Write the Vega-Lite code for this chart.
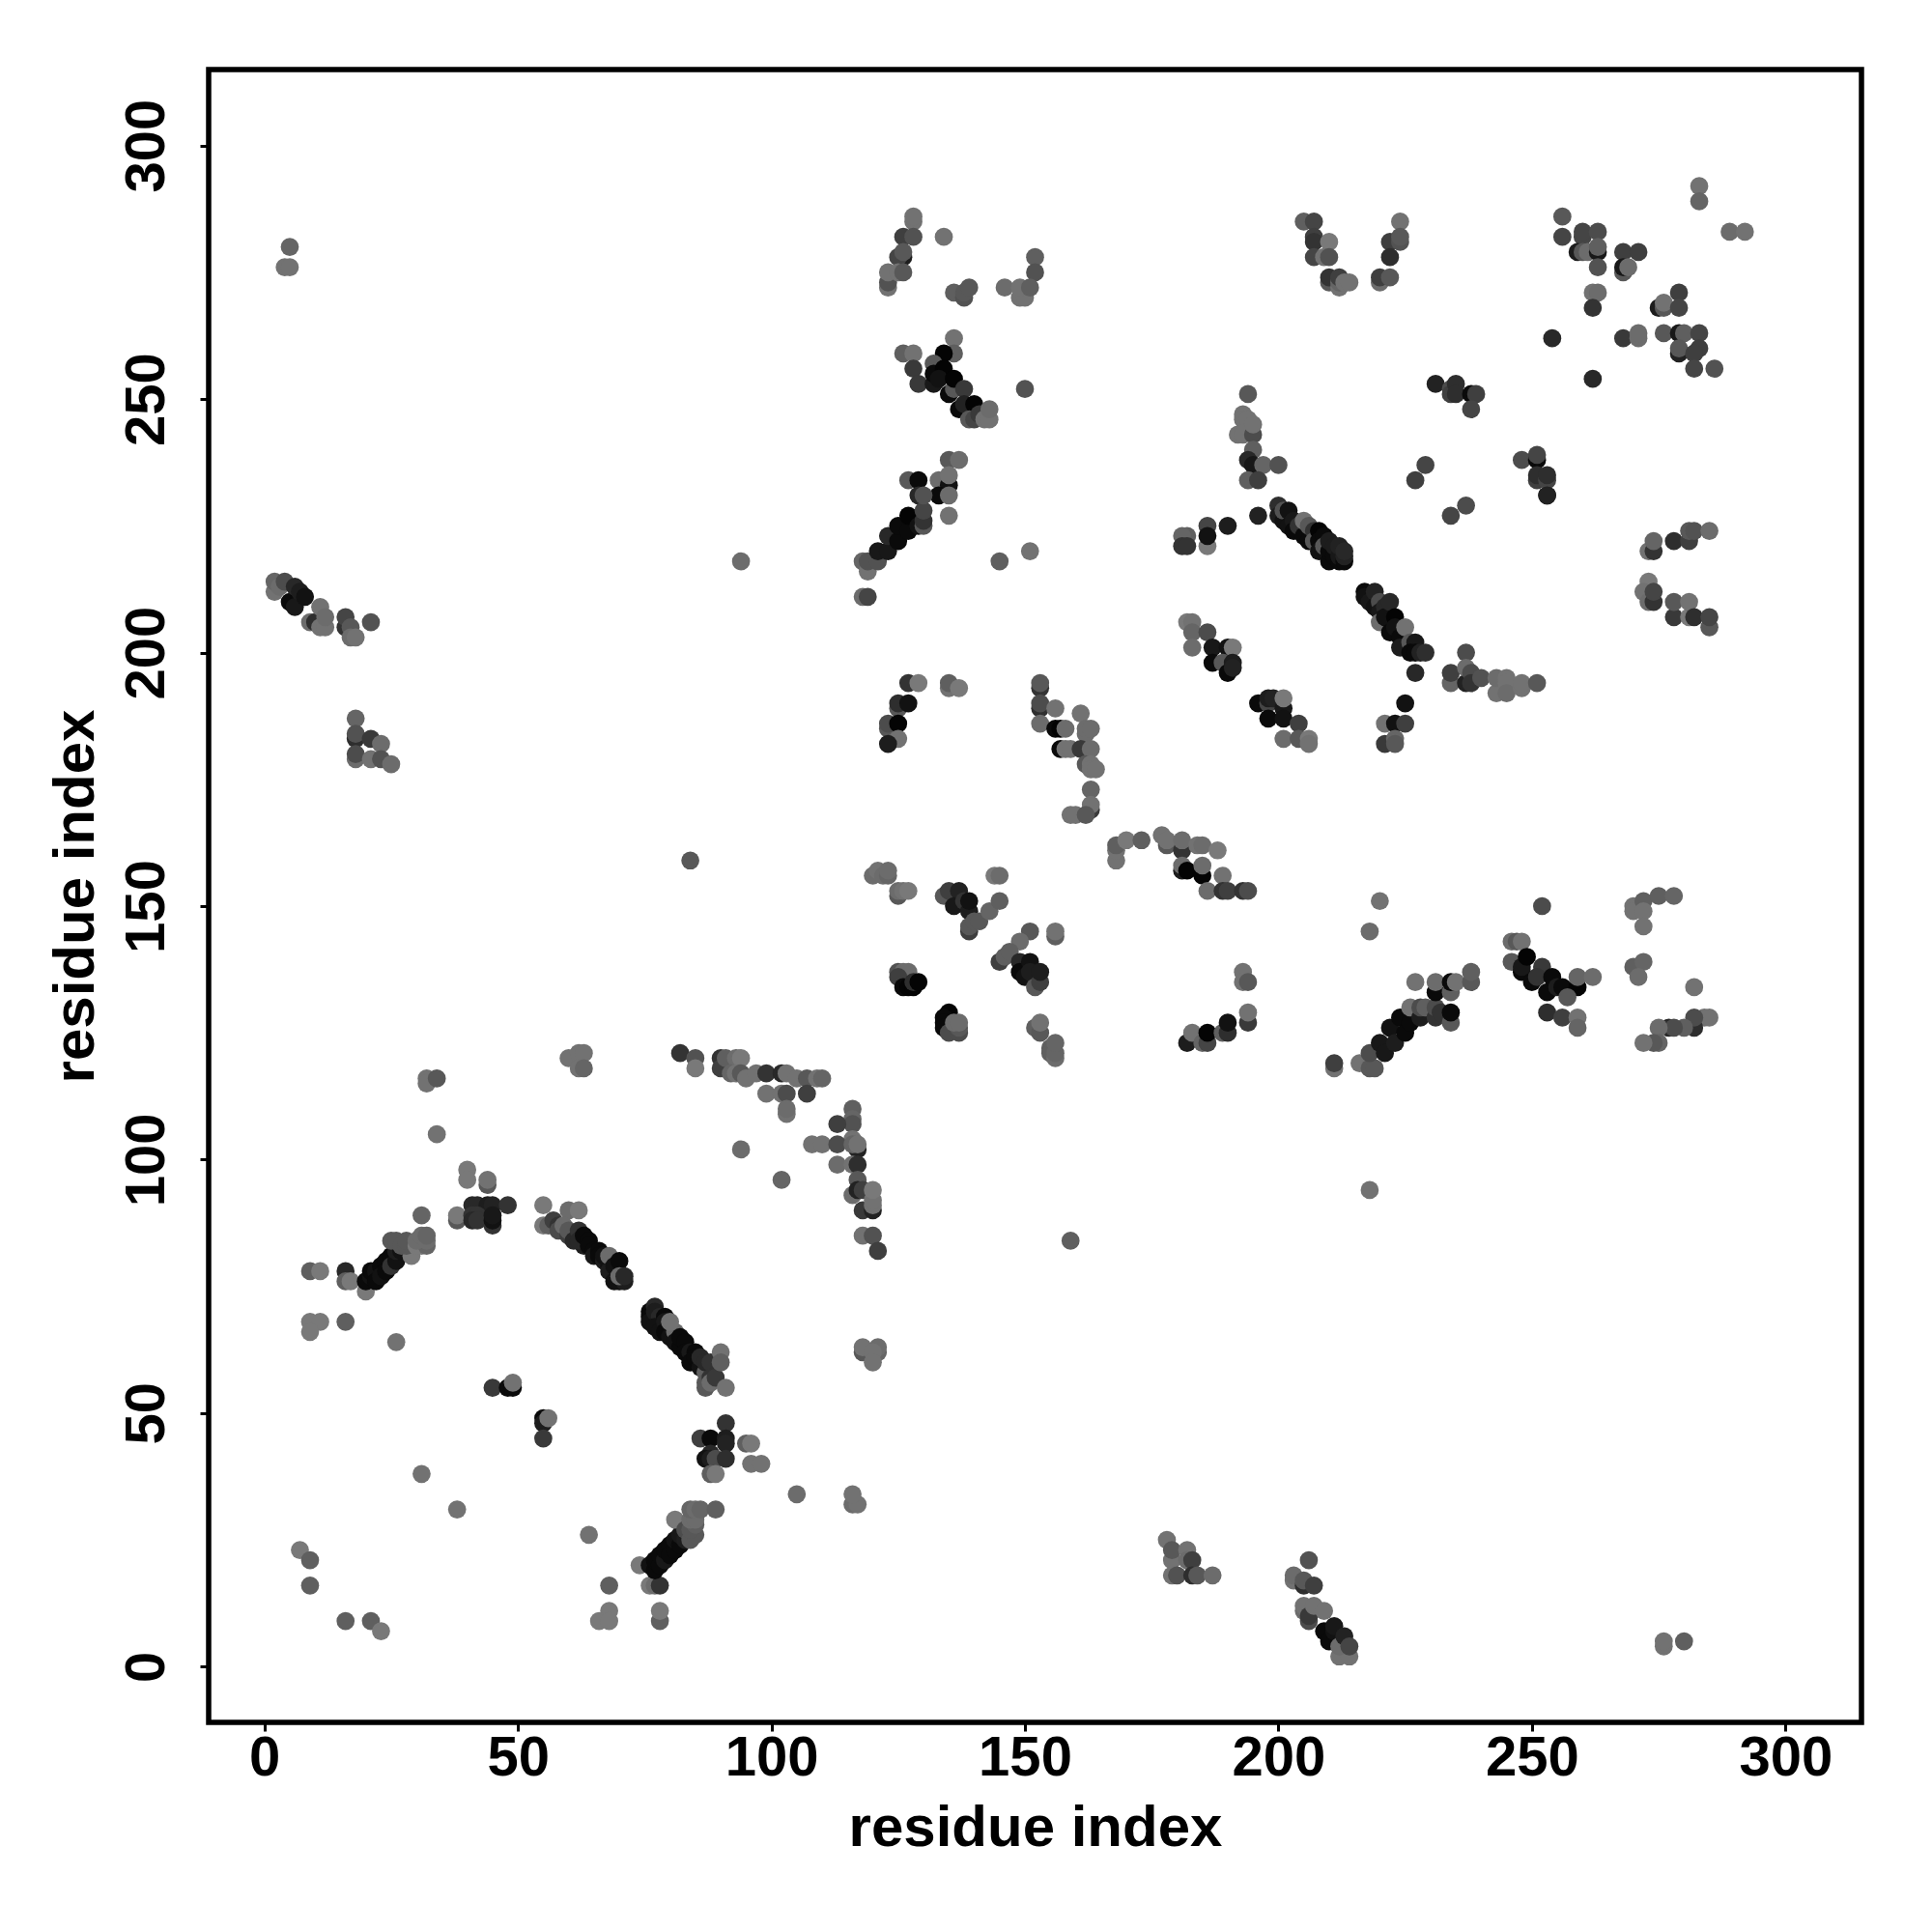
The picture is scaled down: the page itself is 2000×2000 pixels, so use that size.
{"$schema":"https://vega.github.io/schema/vega-lite/v6.json","width":1711,"height":1711,"autosize":{"type":"none"},"padding":{"left":216,"top":72,"right":73,"bottom":217},"background":"white","config":{"view":{"stroke":"#000","strokeWidth":5.5},"axis":{"domain":false,"grid":false,"ticks":true,"tickSize":9,"tickWidth":3,"tickColor":"#000","labelFont":"Liberation Sans","labelFontWeight":"bold","labelFontSize":58,"labelColor":"#000","titleFont":"Liberation Sans","titleFontWeight":"bold","titleFontSize":60,"titleColor":"#000"}},
"data":{"values":[
{"x":40,"y":98,"s":95},{"x":40,"y":96,"s":95},{"x":44,"y":95,"s":70},{"x":44,"y":96,"s":90},{"x":34,"y":105,"s":90},{"x":32,"y":116,"s":90},{"x":32,"y":115,"s":90},{"x":34,"y":116,"s":70},{"x":31,"y":89,"s":80},{"x":38,"y":88,"s":70},{"x":38,"y":89,"s":95},{"x":41,"y":91,"s":30},{"x":42,"y":91,"s":30},{"x":44,"y":91,"s":20},{"x":45,"y":91,"s":25},{"x":48,"y":91,"s":40},{"x":41,"y":89,"s":40},{"x":42,"y":89,"s":40},{"x":41,"y":88,"s":30},{"x":42,"y":88,"s":40},{"x":45,"y":87,"s":40},{"x":45,"y":88,"s":10},{"x":45,"y":89,"s":15},
{"x":55,"y":91,"s":95},{"x":60,"y":90,"s":85},{"x":62,"y":90,"s":95},{"x":55,"y":87,"s":95},{"x":56,"y":87,"s":75},{"x":57,"y":88,"s":50},{"x":58,"y":87,"s":40},{"x":58,"y":86,"s":60},{"x":59,"y":87,"s":85},{"x":60,"y":85,"s":50},{"x":60,"y":86,"s":70},{"x":61,"y":84,"s":30},{"x":62,"y":86,"s":40},{"x":63,"y":83,"s":20},{"x":62,"y":84,"s":30},{"x":63,"y":85,"s":5},{"x":64,"y":84,"s":5},{"x":64,"y":83,"s":5},{"x":65,"y":82,"s":5},{"x":65,"y":81,"s":15},{"x":66,"y":82,"s":5},{"x":66,"y":81,"s":5},{"x":67,"y":80,"s":20},{"x":67,"y":81,"s":10},{"x":68,"y":79,"s":10},{"x":68,"y":81,"s":85},{"x":69,"y":78,"s":15},{"x":68,"y":78,"s":20},{"x":69,"y":79,"s":10},{"x":69,"y":76,"s":10},{"x":70,"y":76,"s":10},{"x":71,"y":76,"s":20},{"x":70,"y":80,"s":5},{"x":70,"y":77,"s":85},{"x":71,"y":77,"s":30},
{"x":9,"y":78,"s":75},{"x":11,"y":78,"s":95},{"x":16,"y":78,"s":30},{"x":16,"y":76,"s":75},{"x":17,"y":76,"s":95},{"x":20,"y":74,"s":95},{"x":20,"y":76,"s":5},{"x":21,"y":77,"s":10},{"x":21,"y":78,"s":5},{"x":22,"y":78,"s":10},{"x":22,"y":76,"s":5},{"x":23,"y":79,"s":5},{"x":23,"y":77,"s":10},{"x":24,"y":80,"s":5},{"x":24,"y":78,"s":5},{"x":25,"y":81,"s":5},{"x":25,"y":79,"s":40},{"x":26,"y":80,"s":10},{"x":26,"y":82,"s":20},{"x":27,"y":82,"s":10},{"x":29,"y":81,"s":95},{"x":25,"y":84,"s":70},{"x":26,"y":84,"s":70},{"x":27,"y":83,"s":70},{"x":28,"y":83,"s":70},{"x":28,"y":84,"s":70},{"x":30,"y":83,"s":95},{"x":31,"y":83,"s":95},{"x":32,"y":83,"s":80},{"x":30,"y":84,"s":85},{"x":31,"y":85,"s":85},{"x":32,"y":84,"s":85},{"x":32,"y":85,"s":80},
{"x":9,"y":68,"s":95},{"x":11,"y":68,"s":95},{"x":9,"y":66,"s":95},{"x":16,"y":68,"s":75},{"x":26,"y":64,"s":90},{"x":45,"y":55,"s":45},{"x":48,"y":55,"s":5},{"x":49,"y":55,"s":5},{"x":49,"y":56,"s":90},{"x":55,"y":49,"s":5},{"x":55,"y":48,"s":20},{"x":56,"y":49,"s":90},{"x":55,"y":45,"s":45},{"x":31,"y":38,"s":90},{"x":38,"y":31,"s":90},{"x":7,"y":23,"s":95},{"x":9,"y":21,"s":75},{"x":9,"y":16,"s":75},{"x":16,"y":9,"s":75},{"x":21,"y":9,"s":75},{"x":23,"y":7,"s":95},{"x":64,"y":26,"s":90},{"x":68,"y":16,"s":75},{"x":68,"y":11,"s":95},{"x":66,"y":9,"s":95},{"x":68,"y":9,"s":95},{"x":78,"y":9,"s":75},{"x":78,"y":11,"s":95},
{"x":74,"y":20,"s":95},{"x":76,"y":16,"s":95},{"x":77,"y":16,"s":85},{"x":78,"y":16,"s":40},{"x":76,"y":20,"s":10},{"x":77,"y":19,"s":5},{"x":77,"y":21,"s":5},{"x":78,"y":20,"s":5},{"x":78,"y":22,"s":5},{"x":79,"y":21,"s":15},{"x":79,"y":23,"s":5},{"x":80,"y":24,"s":5},{"x":80,"y":22,"s":5},{"x":81,"y":23,"s":5},{"x":81,"y":25,"s":10},{"x":82,"y":24,"s":5},{"x":82,"y":26,"s":15},{"x":83,"y":25,"s":20},{"x":81,"y":29,"s":95},{"x":83,"y":27,"s":60},{"x":84,"y":25,"s":70},{"x":85,"y":26,"s":70},{"x":84,"y":27,"s":70},{"x":85,"y":28,"s":75},{"x":84,"y":29,"s":85},{"x":85,"y":29,"s":85},{"x":84,"y":31,"s":80},{"x":85,"y":31,"s":85},{"x":86,"y":31,"s":80},{"x":89,"y":31,"s":75},
{"x":76,"y":70,"s":5},{"x":76,"y":69,"s":5},{"x":76,"y":68,"s":10},{"x":77,"y":71,"s":30},{"x":77,"y":70,"s":20},{"x":78,"y":69,"s":30},{"x":77,"y":67,"s":10},{"x":78,"y":66,"s":10},{"x":79,"y":69,"s":5},{"x":79,"y":68,"s":15},{"x":79,"y":66,"s":5},{"x":80,"y":65,"s":10},{"x":81,"y":66,"s":85},{"x":80,"y":68,"s":90},{"x":81,"y":64,"s":10},{"x":82,"y":63,"s":5},{"x":82,"y":65,"s":5},{"x":83,"y":64,"s":5},{"x":83,"y":62,"s":5},{"x":84,"y":62,"s":15},{"x":84,"y":60,"s":5},{"x":85,"y":62,"s":5},{"x":85,"y":61,"s":5},{"x":86,"y":59,"s":10},{"x":86,"y":61,"s":30},{"x":87,"y":58,"s":75},{"x":87,"y":56,"s":70},{"x":87,"y":55,"s":70},{"x":87,"y":60,"s":30},{"x":88,"y":60,"s":40},{"x":88,"y":57,"s":40},{"x":88,"y":56,"s":85},{"x":89,"y":57,"s":45},{"x":90,"y":62,"s":90},{"x":90,"y":60,"s":75},{"x":91,"y":55,"s":90},
{"x":91,"y":48,"s":40},{"x":86,"y":45,"s":50},{"x":88,"y":45,"s":5},{"x":91,"y":45,"s":20},{"x":91,"y":44,"s":25},{"x":88,"y":42,"s":30},{"x":87,"y":41,"s":10},{"x":88,"y":41,"s":20},{"x":89,"y":41,"s":60},{"x":91,"y":41,"s":35},{"x":88,"y":38,"s":75},{"x":89,"y":38,"s":95},{"x":95,"y":44,"s":75},{"x":96,"y":44,"s":95},{"x":96,"y":40,"s":90},{"x":98,"y":40,"s":90},{"x":105,"y":34,"s":85},{"x":116,"y":32,"s":85},{"x":117,"y":32,"s":90},{"x":116,"y":34,"s":90},
{"x":60,"y":120,"s":90},{"x":62,"y":121,"s":90},{"x":63,"y":121,"s":90},{"x":62,"y":118,"s":90},{"x":63,"y":118,"s":80},{"x":82,"y":121,"s":40},{"x":85,"y":120,"s":65},{"x":85,"y":118,"s":95},{"x":90,"y":120,"s":40},{"x":90,"y":118,"s":50},{"x":91,"y":120,"s":75},{"x":93,"y":120,"s":85},{"x":94,"y":120,"s":95},{"x":92,"y":117,"s":80},{"x":93,"y":117,"s":90},{"x":94,"y":117,"s":70},{"x":95,"y":116,"s":90},{"x":97,"y":117,"s":90},{"x":99,"y":117,"s":40},{"x":102,"y":117,"s":30},{"x":103,"y":117,"s":90},{"x":105,"y":116,"s":90},{"x":107,"y":116,"s":70},{"x":109,"y":116,"s":90},{"x":110,"y":116,"s":80},{"x":99,"y":113,"s":90},{"x":102,"y":113,"s":90},{"x":103,"y":113,"s":60},{"x":107,"y":113,"s":50},{"x":103,"y":109,"s":90},{"x":103,"y":110,"s":85},{"x":94,"y":102,"s":85},{"x":102,"y":96,"s":80},
{"x":116,"y":110,"s":75},{"x":116,"y":108,"s":80},{"x":116,"y":107,"s":65},{"x":113,"y":107,"s":50},{"x":116,"y":104,"s":90},{"x":108,"y":103,"s":90},{"x":110,"y":103,"s":90},{"x":113,"y":103,"s":60},{"x":117,"y":102,"s":25},{"x":116,"y":103,"s":80},{"x":117,"y":103,"s":90},{"x":113,"y":99,"s":85},{"x":116,"y":99,"s":90},{"x":117,"y":99,"s":35},{"x":117,"y":96,"s":70},{"x":116,"y":93,"s":85},{"x":117,"y":94,"s":25},{"x":118,"y":94,"s":50},{"x":118,"y":90,"s":45},{"x":120,"y":90,"s":25},{"x":120,"y":91,"s":90},{"x":120,"y":92,"s":90},{"x":120,"y":94,"s":95},{"x":118,"y":85,"s":90},{"x":120,"y":85,"s":65},{"x":121,"y":82,"s":50},{"x":159,"y":84,"s":75},{"x":118,"y":62,"s":70},{"x":118,"y":63,"s":90},{"x":121,"y":62,"s":80},{"x":121,"y":63,"s":85},{"x":120,"y":62,"s":90},{"x":120,"y":60,"s":90},
{"x":127,"y":194,"s":40},{"x":129,"y":194,"s":95},{"x":135,"y":193,"s":90},{"x":135,"y":194,"s":75},{"x":137,"y":193,"s":95},{"x":153,"y":193,"s":40},{"x":153,"y":194,"s":70},{"x":153,"y":189,"s":35},{"x":153,"y":190,"s":60},{"x":156,"y":189,"s":90},{"x":153,"y":186,"s":85},{"x":125,"y":189,"s":70},{"x":125,"y":190,"s":35},{"x":127,"y":190,"s":10},{"x":123,"y":185,"s":70},{"x":123,"y":186,"s":60},{"x":125,"y":186,"s":2},{"x":125,"y":183,"s":90},{"x":123,"y":182,"s":20},{"x":161,"y":188,"s":90},{"x":156,"y":185,"s":5},{"x":157,"y":185,"s":2},{"x":158,"y":185,"s":85},{"x":162,"y":184,"s":85},{"x":162,"y":185,"s":85},{"x":163,"y":185,"s":85},{"x":157,"y":181,"s":5},{"x":158,"y":181,"s":90},{"x":159,"y":181,"s":90},{"x":161,"y":181,"s":45},{"x":163,"y":181,"s":85},{"x":162,"y":178,"s":70},{"x":163,"y":178,"s":90},{"x":163,"y":177,"s":90},{"x":164,"y":177,"s":90},{"x":163,"y":173,"s":80},{"x":163,"y":169,"s":45},{"x":163,"y":170,"s":90},{"x":159,"y":168,"s":90},{"x":160,"y":168,"s":90},{"x":162,"y":168,"s":70},
{"x":168,"y":159,"s":90},{"x":168,"y":161,"s":90},{"x":168,"y":162,"s":75},{"x":170,"y":163,"s":95},{"x":173,"y":163,"s":75},{"x":177,"y":164,"s":90},{"x":178,"y":162,"s":70},{"x":178,"y":163,"s":90},{"x":181,"y":161,"s":40},{"x":181,"y":163,"s":85},{"x":181,"y":157,"s":20},{"x":181,"y":158,"s":85},{"x":182,"y":157,"s":2},{"x":184,"y":162,"s":90},{"x":185,"y":162,"s":85},{"x":188,"y":161,"s":95},{"x":185,"y":156,"s":2},{"x":185,"y":158,"s":85},{"x":189,"y":156,"s":90},{"x":186,"y":153,"s":85},{"x":189,"y":153,"s":40},{"x":190,"y":153,"s":50},{"x":193,"y":153,"s":40},{"x":194,"y":153,"s":60},
{"x":120,"y":156,"s":85},{"x":121,"y":157,"s":90},{"x":122,"y":156,"s":85},{"x":123,"y":156,"s":80},{"x":123,"y":157,"s":85},{"x":125,"y":152,"s":70},{"x":125,"y":153,"s":85},{"x":126,"y":153,"s":90},{"x":127,"y":153,"s":95},{"x":134,"y":152,"s":70},{"x":135,"y":153,"s":50},{"x":137,"y":153,"s":25},{"x":136,"y":150,"s":15},{"x":138,"y":151,"s":40},{"x":139,"y":149,"s":20},{"x":139,"y":151,"s":10},{"x":139,"y":145,"s":50},{"x":139,"y":146,"s":70},{"x":140,"y":147,"s":70},{"x":141,"y":147,"s":70},{"x":143,"y":149,"s":80},{"x":144,"y":156,"s":95},{"x":145,"y":156,"s":85},{"x":145,"y":151,"s":75},
{"x":151,"y":145,"s":70},{"x":149,"y":143,"s":85},{"x":156,"y":144,"s":75},{"x":156,"y":145,"s":90},{"x":145,"y":139,"s":50},{"x":146,"y":140,"s":75},{"x":147,"y":141,"s":75},{"x":149,"y":139,"s":30},{"x":149,"y":137,"s":5},{"x":150,"y":136,"s":10},{"x":151,"y":139,"s":10},{"x":151,"y":137,"s":20},{"x":152,"y":134,"s":70},{"x":153,"y":135,"s":50},{"x":153,"y":137,"s":20},
{"x":125,"y":137,"s":65},{"x":126,"y":137,"s":85},{"x":127,"y":137,"s":85},{"x":125,"y":136,"s":50},{"x":126,"y":134,"s":5},{"x":127,"y":134,"s":2},{"x":128,"y":134,"s":2},{"x":128,"y":135,"s":35},{"x":129,"y":135,"s":2},{"x":135,"y":129,"s":2},{"x":134,"y":128,"s":5},{"x":134,"y":127,"s":5},{"x":134,"y":126,"s":5},{"x":135,"y":125,"s":60},{"x":137,"y":125,"s":60},{"x":137,"y":126,"s":70},{"x":136,"y":127,"s":85},{"x":137,"y":127,"s":85},{"x":152,"y":126,"s":75},{"x":153,"y":125,"s":70},{"x":153,"y":127,"s":90},{"x":155,"y":122,"s":75},{"x":155,"y":121,"s":75},{"x":156,"y":120,"s":85},{"x":156,"y":121,"s":80},{"x":156,"y":123,"s":80},
{"x":193,"y":137,"s":90},{"x":193,"y":135,"s":90},{"x":194,"y":135,"s":70},{"x":194,"y":127,"s":45},{"x":194,"y":129,"s":90},{"x":182,"y":123,"s":20},{"x":183,"y":125,"s":90},{"x":185,"y":123,"s":80},{"x":186,"y":123,"s":55},{"x":186,"y":125,"s":2},{"x":189,"y":125,"s":75},{"x":190,"y":125,"s":35},{"x":190,"y":127,"s":10},
{"x":182,"y":223,"s":75},{"x":181,"y":223,"s":80},{"x":181,"y":221,"s":40},{"x":182,"y":221,"s":40},{"x":186,"y":225,"s":55},{"x":186,"y":221,"s":95},{"x":186,"y":223,"s":10},{"x":190,"y":225,"s":20},{"x":196,"y":227,"s":25},
{"x":200,"y":229,"s":35},{"x":200,"y":227,"s":20},{"x":201,"y":226,"s":10},{"x":201,"y":228,"s":65},{"x":202,"y":228,"s":10},{"x":202,"y":225,"s":10},{"x":203,"y":226,"s":15},{"x":203,"y":224,"s":5},{"x":204,"y":225,"s":40},{"x":205,"y":223,"s":5},{"x":205,"y":226,"s":90},{"x":206,"y":222,"s":5},{"x":206,"y":225,"s":70},{"x":207,"y":224,"s":40},{"x":207,"y":222,"s":70},{"x":208,"y":224,"s":2},{"x":208,"y":222,"s":5},{"x":208,"y":220,"s":10},{"x":209,"y":223,"s":5},{"x":209,"y":221,"s":70},{"x":210,"y":218,"s":5},{"x":210,"y":220,"s":5},{"x":210,"y":222,"s":20},{"x":211,"y":219,"s":5},{"x":211,"y":221,"s":20},{"x":212,"y":218,"s":5},{"x":212,"y":219,"s":15},{"x":212,"y":221,"s":25},{"x":213,"y":218,"s":5},{"x":213,"y":219,"s":25},{"x":213,"y":220,"s":30},
{"x":217,"y":212,"s":5},{"x":217,"y":211,"s":10},{"x":218,"y":210,"s":15},{"x":219,"y":212,"s":25},{"x":219,"y":209,"s":10},{"x":220,"y":210,"s":60},{"x":220,"y":208,"s":15},{"x":220,"y":206,"s":85},{"x":221,"y":209,"s":30},{"x":221,"y":207,"s":10},{"x":222,"y":204,"s":5},{"x":222,"y":210,"s":30},{"x":223,"y":207,"s":2},{"x":223,"y":205,"s":10},{"x":224,"y":203,"s":5},{"x":224,"y":201,"s":20},{"x":225,"y":205,"s":90},{"x":226,"y":202,"s":70},{"x":227,"y":202,"s":15},{"x":226,"y":200,"s":5},{"x":227,"y":200,"s":5},{"x":228,"y":200,"s":25},{"x":229,"y":200,"s":35},{"x":227,"y":196,"s":30},
{"x":182,"y":206,"s":95},{"x":183,"y":206,"s":90},{"x":183,"y":204,"s":80},{"x":186,"y":204,"s":60},{"x":183,"y":201,"s":85},{"x":187,"y":201,"s":15},{"x":190,"y":201,"s":10},{"x":191,"y":201,"s":95},{"x":187,"y":198,"s":5},{"x":189,"y":198,"s":70},{"x":191,"y":198,"s":20},{"x":190,"y":196,"s":5},{"x":191,"y":197,"s":25},
{"x":196,"y":190,"s":5},{"x":198,"y":190,"s":55},{"x":198,"y":191,"s":20},{"x":199,"y":191,"s":25},{"x":201,"y":189,"s":15},{"x":201,"y":191,"s":95},{"x":198,"y":187,"s":5},{"x":201,"y":187,"s":10},{"x":204,"y":186,"s":50},{"x":201,"y":183,"s":85},{"x":204,"y":183,"s":70},{"x":206,"y":183,"s":95},{"x":206,"y":182,"s":90},{"x":225,"y":190,"s":10},{"x":221,"y":186,"s":90},{"x":223,"y":186,"s":10},{"x":225,"y":186,"s":50},{"x":221,"y":182,"s":45},{"x":223,"y":183,"s":80},{"x":223,"y":182,"s":70},
{"x":237,"y":200,"s":60},{"x":234,"y":194,"s":80},{"x":234,"y":196,"s":50},{"x":237,"y":194,"s":25},{"x":237,"y":197,"s":85},{"x":238,"y":196,"s":60},{"x":238,"y":194,"s":40},{"x":240,"y":195,"s":65},{"x":243,"y":192,"s":90},{"x":243,"y":195,"s":85},{"x":245,"y":195,"s":90},{"x":245,"y":194,"s":90},{"x":245,"y":192,"s":85},{"x":248,"y":193,"s":90},{"x":248,"y":194,"s":90},{"x":251,"y":194,"s":70},
{"x":234,"y":227,"s":55},{"x":237,"y":229,"s":60},{"x":253,"y":231,"s":25},{"x":273,"y":220,"s":90},{"x":274,"y":220,"s":40},{"x":274,"y":222,"s":80},{"x":278,"y":222,"s":35},{"x":281,"y":222,"s":50},{"x":281,"y":224,"s":70},{"x":282,"y":224,"s":65},{"x":285,"y":224,"s":85},{"x":273,"y":214,"s":95},{"x":272,"y":212,"s":90},{"x":273,"y":210,"s":85},{"x":274,"y":210,"s":40},{"x":274,"y":212,"s":55},{"x":278,"y":207,"s":45},{"x":278,"y":210,"s":70},{"x":281,"y":207,"s":95},{"x":281,"y":210,"s":90},{"x":282,"y":207,"s":35},{"x":285,"y":205,"s":70},{"x":285,"y":207,"s":55},
{"x":220,"y":151,"s":90},{"x":218,"y":145,"s":85},{"x":218,"y":94,"s":90},{"x":252,"y":150,"s":60},{"x":270,"y":150,"s":90},{"x":270,"y":149,"s":90},{"x":272,"y":151,"s":75},{"x":272,"y":149,"s":90},{"x":275,"y":152,"s":75},{"x":278,"y":152,"s":80},{"x":272,"y":146,"s":90},{"x":270,"y":138,"s":75},{"x":272,"y":139,"s":80},{"x":271,"y":136,"s":85},{"x":282,"y":134,"s":90},{"x":284,"y":128,"s":90},{"x":285,"y":128,"s":90},{"x":282,"y":126,"s":35},{"x":282,"y":128,"s":60},{"x":280,"y":126,"s":75},{"x":277,"y":126,"s":30},{"x":278,"y":126,"s":60},{"x":275,"y":126,"s":85},{"x":275,"y":123,"s":80},{"x":274,"y":123,"s":70},{"x":272,"y":123,"s":90},
{"x":211,"y":118,"s":90},{"x":211,"y":119,"s":50},{"x":216,"y":119,"s":90},{"x":218,"y":118,"s":70},{"x":219,"y":118,"s":70},{"x":218,"y":121,"s":60},{"x":220,"y":123,"s":15},{"x":221,"y":121,"s":15},{"x":222,"y":126,"s":10},{"x":223,"y":123,"s":20},{"x":224,"y":128,"s":5},{"x":225,"y":125,"s":5},{"x":226,"y":127,"s":5},{"x":226,"y":130,"s":90},{"x":228,"y":128,"s":20},{"x":228,"y":130,"s":60},{"x":229,"y":130,"s":75},{"x":231,"y":128,"s":40},{"x":231,"y":130,"s":60},{"x":231,"y":133,"s":5},{"x":227,"y":135,"s":90},{"x":231,"y":135,"s":85},{"x":232,"y":129,"s":40},{"x":234,"y":127,"s":70},{"x":234,"y":129,"s":5},{"x":234,"y":133,"s":75},{"x":234,"y":135,"s":5},{"x":235,"y":135,"s":90},{"x":238,"y":135,"s":70},{"x":238,"y":137,"s":75},
{"x":246,"y":143,"s":85},{"x":247,"y":143,"s":70},{"x":248,"y":143,"s":90},{"x":246,"y":139,"s":70},{"x":248,"y":137,"s":5},{"x":248,"y":138,"s":15},{"x":249,"y":140,"s":2},{"x":250,"y":135,"s":5},{"x":252,"y":138,"s":45},{"x":251,"y":136,"s":40},{"x":253,"y":133,"s":5},{"x":254,"y":136,"s":5},{"x":255,"y":134,"s":20},{"x":256,"y":134,"s":5},{"x":259,"y":134,"s":2},{"x":257,"y":132,"s":70},{"x":259,"y":136,"s":80},{"x":262,"y":136,"s":85},{"x":253,"y":129,"s":35},{"x":256,"y":128,"s":50},{"x":259,"y":128,"s":90},{"x":259,"y":126,"s":80},
{"x":128,"y":285,"s":90},{"x":128,"y":286,"s":90},{"x":126,"y":282,"s":50},{"x":128,"y":282,"s":65},{"x":134,"y":282,"s":90},{"x":126,"y":278,"s":20},{"x":125,"y":278,"s":55},{"x":126,"y":279,"s":70},{"x":123,"y":272,"s":90},{"x":123,"y":273,"s":65},{"x":123,"y":275,"s":90},{"x":125,"y":275,"s":90},{"x":126,"y":275,"s":70},{"x":136,"y":271,"s":75},{"x":138,"y":270,"s":65},{"x":138,"y":271,"s":70},{"x":139,"y":272,"s":70},{"x":146,"y":272,"s":85},{"x":152,"y":278,"s":75},{"x":152,"y":275,"s":65},{"x":149,"y":270,"s":90},{"x":150,"y":270,"s":90},{"x":149,"y":272,"s":90},{"x":151,"y":272,"s":75},
{"x":126,"y":259,"s":75},{"x":128,"y":259,"s":90},{"x":136,"y":262,"s":90},{"x":136,"y":259,"s":75},{"x":134,"y":259,"s":2},{"x":128,"y":256,"s":45},{"x":129,"y":253,"s":45},{"x":132,"y":253,"s":15},{"x":132,"y":257,"s":70},{"x":132,"y":255,"s":5},{"x":134,"y":256,"s":2},{"x":133,"y":254,"s":10},{"x":135,"y":251,"s":5},{"x":136,"y":252,"s":70},{"x":136,"y":254,"s":2},{"x":138,"y":252,"s":45},{"x":137,"y":248,"s":5},{"x":138,"y":249,"s":25},{"x":140,"y":249,"s":2},{"x":139,"y":246,"s":70},{"x":140,"y":246,"s":55},{"x":141,"y":247,"s":45},{"x":142,"y":246,"s":90},{"x":143,"y":246,"s":90},{"x":143,"y":248,"s":85},{"x":150,"y":252,"s":65},
{"x":135,"y":238,"s":70},{"x":137,"y":238,"s":85},{"x":127,"y":234,"s":70},{"x":129,"y":234,"s":5},{"x":133,"y":234,"s":85},{"x":135,"y":233,"s":10},{"x":135,"y":235,"s":90},{"x":133,"y":231,"s":5},{"x":135,"y":231,"s":85},{"x":135,"y":227,"s":90},
{"x":118,"y":218,"s":80},{"x":119,"y":216,"s":90},{"x":119,"y":218,"s":65},{"x":121,"y":218,"s":65},{"x":121,"y":220,"s":15},{"x":123,"y":220,"s":15},{"x":123,"y":223,"s":30},{"x":125,"y":222,"s":5},{"x":125,"y":225,"s":5},{"x":127,"y":224,"s":5},{"x":127,"y":227,"s":2},{"x":129,"y":225,"s":10},{"x":129,"y":231,"s":30},{"x":130,"y":225,"s":70},{"x":130,"y":226,"s":40},{"x":130,"y":228,"s":55},{"x":130,"y":231,"s":65},{"x":118,"y":211,"s":85},{"x":119,"y":211,"s":55},{"x":145,"y":218,"s":75},{"x":151,"y":220,"s":90},{"x":94,"y":218,"s":85},{"x":84,"y":159,"s":70},
{"x":194,"y":251,"s":70},{"x":193,"y":247,"s":90},{"x":193,"y":246,"s":90},{"x":194,"y":246,"s":90},{"x":192,"y":243,"s":90},{"x":193,"y":243,"s":90},{"x":195,"y":243,"s":60},{"x":195,"y":245,"s":90},{"x":195,"y":240,"s":75},{"x":194,"y":238,"s":30},{"x":195,"y":237,"s":15},{"x":197,"y":237,"s":80},{"x":200,"y":237,"s":65},{"x":194,"y":234,"s":75},{"x":196,"y":234,"s":50},
{"x":205,"y":285,"s":75},{"x":207,"y":285,"s":55},{"x":207,"y":282,"s":50},{"x":207,"y":281,"s":40},{"x":210,"y":281,"s":95},{"x":207,"y":278,"s":55},{"x":209,"y":278,"s":90},{"x":210,"y":278,"s":65},{"x":210,"y":273,"s":70},{"x":210,"y":274,"s":40},{"x":212,"y":272,"s":90},{"x":212,"y":273,"s":80},{"x":212,"y":274,"s":50},{"x":213,"y":273,"s":90},{"x":214,"y":273,"s":90},{"x":224,"y":285,"s":90},{"x":222,"y":281,"s":50},{"x":224,"y":281,"s":65},{"x":224,"y":282,"s":70},{"x":222,"y":278,"s":35},{"x":220,"y":273,"s":85},{"x":220,"y":274,"s":50},{"x":222,"y":274,"s":70},
{"x":283,"y":292,"s":90},{"x":283,"y":289,"s":80},{"x":289,"y":283,"s":85},{"x":292,"y":283,"s":90},{"x":256,"y":286,"s":70},{"x":256,"y":282,"s":55},{"x":260,"y":282,"s":55},{"x":260,"y":283,"s":55},{"x":263,"y":283,"s":60},{"x":259,"y":279,"s":20},{"x":260,"y":279,"s":70},{"x":261,"y":279,"s":85},{"x":263,"y":279,"s":15},{"x":263,"y":280,"s":75},{"x":263,"y":276,"s":65},{"x":268,"y":279,"s":50},{"x":271,"y":279,"s":50},{"x":268,"y":275,"s":70},{"x":268,"y":276,"s":15},{"x":269,"y":276,"s":85},{"x":262,"y":271,"s":90},{"x":263,"y":271,"s":85},{"x":262,"y":268,"s":40},{"x":254,"y":262,"s":30},{"x":262,"y":254,"s":30},{"x":268,"y":262,"s":45},{"x":271,"y":262,"s":85},{"x":271,"y":263,"s":85},
{"x":275,"y":268,"s":20},{"x":276,"y":268,"s":70},{"x":276,"y":269,"s":90},{"x":279,"y":271,"s":50},{"x":279,"y":268,"s":55},{"x":276,"y":263,"s":70},{"x":279,"y":263,"s":15},{"x":280,"y":263,"s":75},{"x":283,"y":263,"s":55},{"x":279,"y":259,"s":25},{"x":279,"y":260,"s":70},{"x":283,"y":260,"s":50},{"x":282,"y":259,"s":50},{"x":282,"y":256,"s":55},{"x":286,"y":256,"s":65},
{"x":231,"y":253,"s":25},{"x":234,"y":252,"s":60},{"x":234,"y":251,"s":50},{"x":235,"y":253,"s":35},{"x":235,"y":251,"s":35},{"x":238,"y":251,"s":5},{"x":239,"y":251,"s":50},{"x":238,"y":248,"s":55},{"x":229,"y":237,"s":55},{"x":227,"y":234,"s":50},{"x":248,"y":238,"s":60},{"x":251,"y":238,"s":5},{"x":251,"y":239,"s":55},{"x":251,"y":234,"s":50},{"x":251,"y":235,"s":35},{"x":253,"y":234,"s":55},{"x":253,"y":235,"s":35},{"x":253,"y":231,"s":25},
{"x":4,"y":276,"s":90},{"x":5,"y":276,"s":90},{"x":5,"y":280,"s":80},{"x":2,"y":212,"s":90},{"x":2,"y":214,"s":80},{"x":3,"y":213,"s":85},{"x":4,"y":214,"s":60},{"x":5,"y":210,"s":5},{"x":6,"y":213,"s":30},{"x":6,"y":209,"s":15},{"x":7,"y":212,"s":20},{"x":8,"y":211,"s":10},{"x":9,"y":206,"s":85},{"x":10,"y":206,"s":35},{"x":11,"y":205,"s":90},{"x":11,"y":209,"s":90},{"x":12,"y":205,"s":90},{"x":12,"y":207,"s":85},{"x":16,"y":205,"s":40},{"x":16,"y":207,"s":55},{"x":17,"y":205,"s":70},{"x":17,"y":203,"s":85},{"x":18,"y":203,"s":90},{"x":21,"y":206,"s":65},
{"x":18,"y":187,"s":80},{"x":18,"y":183,"s":35},{"x":18,"y":184,"s":65},{"x":18,"y":179,"s":85},{"x":18,"y":180,"s":60},{"x":21,"y":183,"s":45},{"x":21,"y":179,"s":90},{"x":23,"y":182,"s":85},{"x":23,"y":179,"s":65},{"x":25,"y":178,"s":85},
{"x":178,"y":25,"s":90},{"x":179,"y":21,"s":90},{"x":179,"y":23,"s":70},{"x":182,"y":23,"s":90},{"x":182,"y":21,"s":85},{"x":183,"y":21,"s":50},{"x":179,"y":18,"s":90},{"x":180,"y":18,"s":65},{"x":183,"y":18,"s":35},{"x":184,"y":18,"s":70},{"x":187,"y":18,"s":85},{"x":206,"y":21,"s":65},{"x":203,"y":17,"s":90},{"x":203,"y":18,"s":85},{"x":205,"y":16,"s":35},{"x":205,"y":17,"s":70},{"x":207,"y":16,"s":50},{"x":205,"y":11,"s":85},{"x":205,"y":12,"s":90},{"x":206,"y":9,"s":60},{"x":206,"y":10,"s":45},{"x":207,"y":12,"s":90},{"x":209,"y":11,"s":90},{"x":209,"y":7,"s":5},{"x":210,"y":5,"s":5},{"x":211,"y":7,"s":10},{"x":211,"y":8,"s":15},{"x":212,"y":2,"s":90},{"x":214,"y":2,"s":90},{"x":212,"y":4,"s":85},{"x":213,"y":6,"s":25},{"x":214,"y":4,"s":55},{"x":276,"y":4,"s":90},{"x":276,"y":5,"s":90},{"x":280,"y":5,"s":75}
]},
"mark":{"type":"circle","size":350,"opacity":1,"clip":false},
"encoding":{"x":{"field":"x","type":"quantitative","scale":{"domain":[-11,315],"nice":false,"zero":false},"axis":{"values":[0,50,100,150,200,250,300],"title":"residue index","labelPadding":-1,"titlePadding":14,"labelAngle":0}},
"y":{"field":"y","type":"quantitative","scale":{"domain":[-11,315],"nice":false,"zero":false},"axis":{"values":[0,50,100,150,200,250,300],"title":"residue index","labelPadding":26,"titlePadding":14,"labelAngle":-90,"labelAlign":"center","labelBaseline":"bottom"}},
"color":{"field":"s","type":"quantitative","legend":null,"scale":{"domain":[0,100],"range":["#000000","#808080"]}}}}
